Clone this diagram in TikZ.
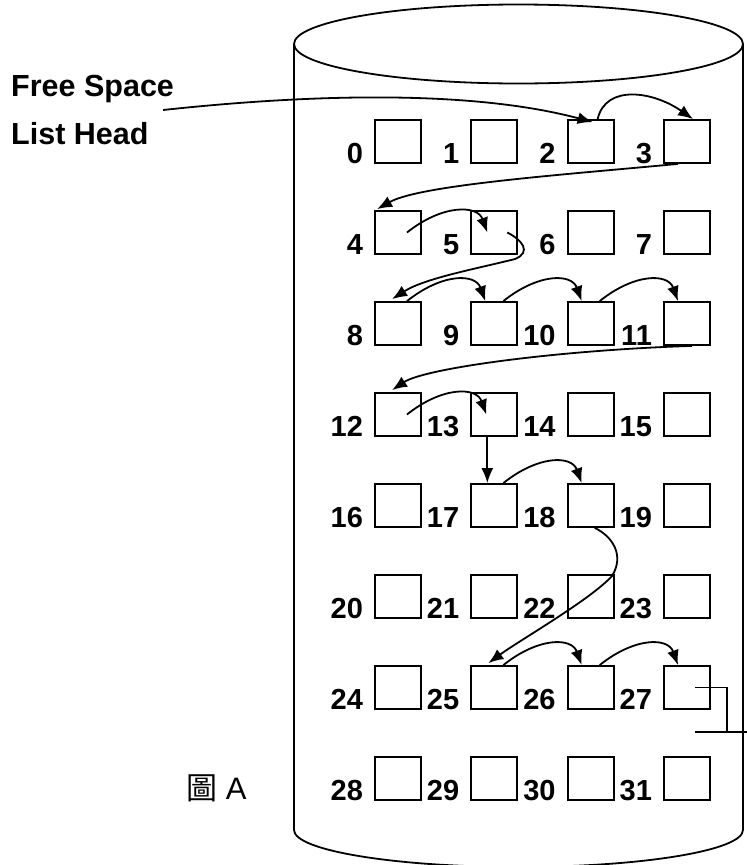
\documentclass[tikz,border=0pt]{standalone}
\usepackage{fontspec}
\setmainfont{Liberation Sans}
\newfontfamily\cjk{Noto Sans CJK TC}
\usetikzlibrary{arrows.meta}

\begin{document}
\begin{tikzpicture}[x=1pt, y=-1pt,
    every node/.style={font=\bfseries\fontsize{29}{34}\selectfont},
    bloque/.style={rectangle, draw, line width=1.8pt, minimum width=46pt,
                   minimum height=43pt, inner sep=0pt},
    etiq/.style={anchor=base east, inner sep=0pt},
    linea/.style={line width=1.8pt},
    flecha/.style={linea, -{Latex[length=15pt, width=12pt]}},
    salto/.style={flecha, to path={.. controls +(35,-28) and +(-10,-28) .. (\tikztotarget)}}
]
    \useasboundingbox (0,0) rectangle (747,865);

    \draw[linea] (518.5,44) ellipse [x radius=224.5pt, y radius=39.5pt];
    \draw[linea] (294,44) -- (294,830)
        arc [start angle=180, end angle=360, x radius=224.5pt, y radius=37pt] -- (743,44);

    \foreach \f in {0,...,7}
      \foreach \c in {0,...,3} {
        \pgfmathtruncatemacro{\idx}{4*\f+\c}
        \node[bloque] (b\idx) at ({398+96.33*\c}, {141.5+91*\f}) {};
        \node[etiq] (n\idx) at ([xshift=-11pt]b\idx.south west) {\idx};
      }

    \node[anchor=north west, align=left, inner sep=0pt,
          font=\bfseries\fontsize{30.5}{48}\selectfont] (head) at (11,75)
          {Free Space\\List Head};
    \node[anchor=base west, inner sep=0pt, font=\mdseries\fontsize{31}{36}\selectfont]
          (fig) at (186,799) {{\cjk 圖} A};

    \draw[flecha] ([xshift=-11pt]head.east) .. controls (330,92) and (480,92)
                  .. ([xshift=2pt,yshift=-3pt]b2.north);
    \draw[flecha] ([xshift=7pt]b2.north) .. controls +(8,-35) and +(-40,-28)
                  .. ([xshift=6pt]b3.north);
    \draw[flecha] ([xshift=-9pt]b3.south) .. controls (560,175) and (420,185)
                  .. ([xshift=3pt,yshift=1pt]b4.north west);
    \draw[salto] ([xshift=9pt]b4.center) to ([xshift=-7pt]b5.center);
    \draw[flecha] ([xshift=13pt]b5.center) .. controls (522,240) and (532,252) .. (515,259)
                  .. controls (480,268) and (425,278) .. ([xshift=18pt,yshift=2pt]b8.north west);
    \foreach \p/\q in {8/9, 9/10, 10/11, 17/18, 25/26, 26/27}
        \draw[salto] ([xshift=9pt]b\p.north) to ([xshift=-9pt]b\q.north);
    \draw[flecha] ([xshift=5pt]b11.south) .. controls (560,350) and (425,368)
                  .. ([xshift=18pt,yshift=2pt]b12.north west);
    \draw[salto] ([xshift=9pt]b12.center) to ([xshift=-8pt]b13.center);
    \draw[flecha] ([xshift=-7pt]b13.south) -- ([xshift=-7pt]b17.north);
    \draw[flecha] ([xshift=4pt]b18.south) .. controls (612,536) and (625,555) .. (612,576)
                  .. controls (590,600) and (520,640) .. ([xshift=18pt,yshift=2pt]b25.north west);

    \coordinate (nil) at (727,732);
    \draw[linea] ([xshift=8pt]b27.center) -| (nil);
    \draw[linea] ([xshift=-32pt]nil) -- ([xshift=20pt]nil);
\end{tikzpicture}
\end{document}
